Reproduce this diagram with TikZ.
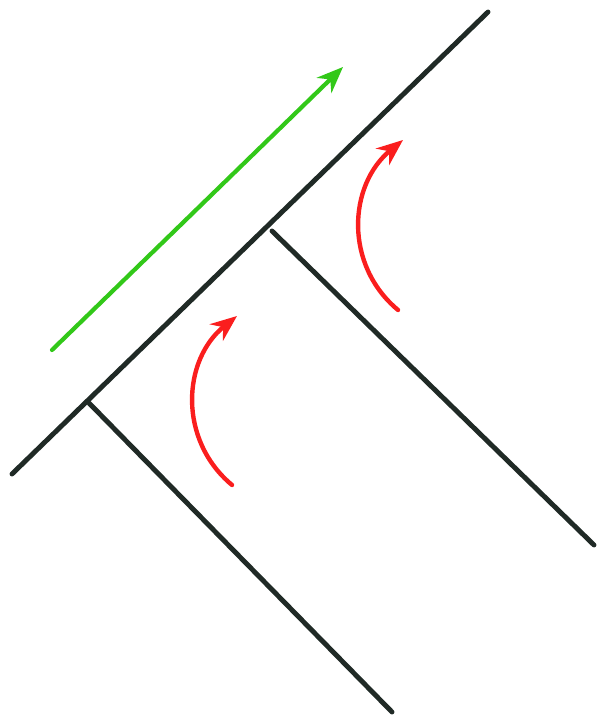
\documentclass[tikz,border=0pt]{standalone}
\usepackage{tikz}
\usetikzlibrary{arrows.meta}

\definecolor{wallcol}{RGB}{32,42,38}
\definecolor{flowred}{RGB}{250,30,30}
\definecolor{flowgreen}{RGB}{50,200,25}

\begin{document}
\begin{tikzpicture}[x=0.02cm, y=-0.02cm,
    wall/.style={wallcol, line width=2.8pt, line cap=round},
    redflow/.style={flowred, line width=2.5pt, line cap=round, -{Stealth[length=15pt, width=12pt]}},
    greenflow/.style={flowgreen, line width=2.4pt, line cap=round, -{Stealth[length=15pt, width=12pt]}}]
  \useasboundingbox (0,0) rectangle (600,722);
  %--- main wall ---
  \coordinate (wallA) at (12,474);
  \coordinate (wallB) at (488,12);
  \coordinate (joinL) at (88,402);
  \coordinate (joinR) at (272,231);
  \draw[wall] (wallA) -- (wallB);
  %--- side walls ---
  \coordinate (endL) at (392,712);
  \coordinate (endR) at (594,545);
  \draw[wall] (joinL) -- (endL);
  \draw[wall] (joinR) -- (endR);
  %--- flow along the wall ---
  \coordinate (gStart) at (52,350);
  \coordinate (gEnd) at (343,67);
  \draw[greenflow] (gStart) -- (gEnd);
  %--- turning flows ---
  \coordinate (rStartL) at (232,485);
  \coordinate (rEndL) at (237,316);
  \draw[redflow] (rStartL) .. controls (178,440) and (182,360) .. (rEndL);
  \coordinate (rStartR) at (398,310);
  \coordinate (rEndR) at (403,140);
  \draw[redflow] (rStartR) .. controls (344,265) and (348,185) .. (rEndR);
\end{tikzpicture}
\end{document}
